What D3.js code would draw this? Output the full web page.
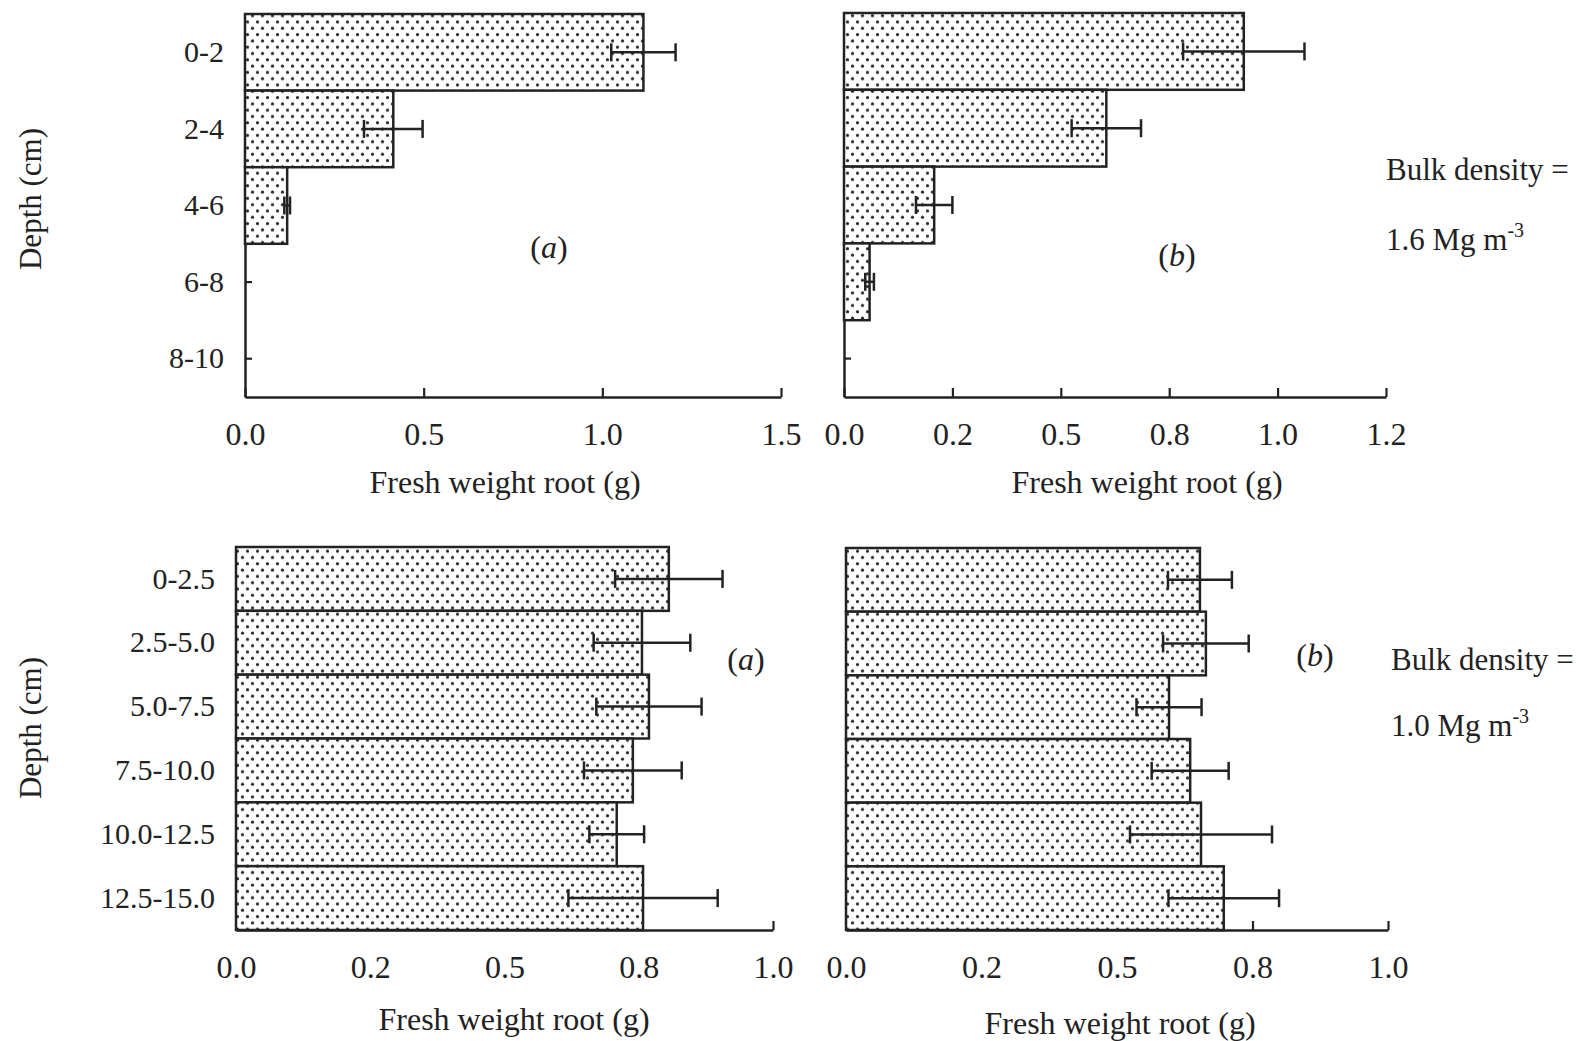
<!DOCTYPE html>
<html>
<head>
<meta charset="utf-8">
<script src="https://cdn.jsdelivr.net/npm/d3@7"></script>
<style>
	body { margin: 0; background: #fff; }
	svg { display: block; }
	text { font-family: "Liberation Serif", "DejaVu Serif", serif; fill: #222; }
</style>
</head>
<body>
<div id="chart"></div>
<script>
// Depth classes (cm)
const depthsTop = ["0-2", "2-4", "4-6", "6-8", "8-10"];
const depthsBottom = ["0-2.5", "2.5-5.0", "5.0-7.5", "7.5-10.0", "10.0-12.5", "12.5-15.0"];

// Fresh weight root (g), bulk density 1.6 Mg m-3
const weightTopA = [1.115, 0.415, 0.118, 0, 0];
const errorTopA = [0.09, 0.082, 0.008, 0, 0];
const weightTopB = [0.922, 0.605, 0.208, 0.059, 0];
const errorTopB = [0.14, 0.08, 0.042, 0.01, 0];

// Fresh weight root (g), bulk density 1.0 Mg m-3
const weightBottomA = [0.806, 0.756, 0.769, 0.739, 0.709, 0.758];
const errorBottomA = [0.1, 0.09, 0.098, 0.091, 0.051, 0.139];
const weightBottomB = [0.653, 0.664, 0.596, 0.635, 0.655, 0.697];
const errorBottomB = [0.059, 0.079, 0.06, 0.071, 0.131, 0.102];

// x ticks and the labels printed under them
const ticksTopA = [0, 0.5, 1.0, 1.5];
const tickLabelsTopA = ["0.0", "0.5", "1.0", "1.5"];
const ticksTopB = [0, 0.25, 0.5, 0.75, 1.0, 1.25];
const tickLabelsTopB = ["0.0", "0.2", "0.5", "0.8", "1.0", "1.2"];
const ticksBottom = [0, 0.25, 0.5, 0.75, 1.0];
const tickLabelsBottom = ["0.0", "0.2", "0.5", "0.8", "1.0"];

const ink = "#222";

const svg = d3.select("#chart").append("svg")
	.attr("width", 1580)
	.attr("height", 1041);

// dotted fill used by all bars
const pattern = svg.append("defs").append("pattern")
	.attr("id", "dots")
	.attr("patternUnits", "userSpaceOnUse")
	.attr("width", 10)
	.attr("height", 12.6);
pattern.append("rect").attr("width", 10).attr("height", 12.6).attr("fill", "#fff");
pattern.append("circle").attr("cx", 2.5).attr("cy", 3.1).attr("r", 1.6).attr("fill", "#2a2a2a");
pattern.append("circle").attr("cx", 7.5).attr("cy", 9.4).attr("r", 1.6).attr("fill", "#2a2a2a");

function drawPanel(p) {
	const x = d3.scaleLinear().domain(p.domain).range([p.left, p.right]);
	const y = d3.scaleBand().domain(p.depths).range([p.top, p.bottom]).padding(0);

	const g = svg.append("g");

	// x axis with inward ticks
	const xAxis = g.append("g")
		.attr("transform", `translate(0,${p.bottom})`)
		.call(d3.axisBottom(x)
			.tickValues(p.ticks)
			.tickFormat((d, i) => p.tickLabels[i])
			.tickSizeInner(-9)
			.tickSizeOuter(0)
			.tickPadding(25));
	xAxis.select(".domain").attr("stroke", ink).attr("stroke-width", 2.5);
	xAxis.selectAll(".tick line").attr("stroke", ink).attr("stroke-width", 2.2);
	xAxis.selectAll(".tick text")
		.style("font-family", "Liberation Serif")
		.style("font-size", "32px")
		.attr("fill", ink);

	// y axis with inward ticks
	const yAxis = g.append("g")
		.attr("transform", `translate(${p.left},0)`)
		.call(d3.axisLeft(y)
			.tickSizeInner(-7)
			.tickSizeOuter(0)
			.tickPadding(21)
			.tickFormat(d => p.showLabels ? d : ""));
	yAxis.select(".domain").attr("stroke", ink).attr("stroke-width", 2.5);
	yAxis.selectAll(".tick line").attr("stroke", ink).attr("stroke-width", 2.2);
	yAxis.selectAll(".tick text")
		.style("font-family", "Liberation Serif")
		.style("font-size", "30px")
		.attr("fill", ink);

	const rows = p.depths.map((d, i) => ({ depth: d, value: p.values[i], err: p.errors[i] }));

	// bars
	g.selectAll("rect.bar")
		.data(rows.filter(d => d.value > 0))
		.enter().append("rect")
		.attr("class", "bar")
		.attr("x", x(0))
		.attr("y", d => y(d.depth))
		.attr("width", d => x(d.value) - x(0))
		.attr("height", y.bandwidth())
		.attr("fill", "url(#dots)")
		.attr("stroke", ink)
		.attr("stroke-width", 2.5);

	// error bars
	const eb = g.selectAll("g.err")
		.data(rows.filter(d => d.err > 0))
		.enter().append("g")
		.attr("class", "err")
		.attr("stroke", ink)
		.attr("stroke-width", 2.5);
	const cy = d => y(d.depth) + y.bandwidth() / 2;
	eb.append("line")
		.attr("x1", d => x(d.value - d.err))
		.attr("x2", d => x(d.value + d.err))
		.attr("y1", cy).attr("y2", cy);
	eb.append("line")
		.attr("x1", d => x(d.value - d.err)).attr("x2", d => x(d.value - d.err))
		.attr("y1", d => cy(d) - 9).attr("y2", d => cy(d) + 9);
	eb.append("line")
		.attr("x1", d => x(d.value + d.err)).attr("x2", d => x(d.value + d.err))
		.attr("y1", d => cy(d) - 9).attr("y2", d => cy(d) + 9);

	// axis title
	g.append("text")
		.attr("x", p.titleX)
		.attr("y", p.titleY)
		.attr("text-anchor", "middle")
		.style("font-size", "32px")
		.text("Fresh weight root (g)");

	// panel letter
	const lab = g.append("text")
		.attr("x", p.letterX)
		.attr("y", p.letterY)
		.attr("text-anchor", "middle")
		.style("font-size", "32px");
	lab.append("tspan").text("(");
	lab.append("tspan").style("font-style", "italic").text(p.letter);
	lab.append("tspan").text(")");
}

drawPanel({
	depths: depthsTop, values: weightTopA, errors: errorTopA,
	domain: [0, 1.5], ticks: ticksTopA, tickLabels: tickLabelsTopA,
	left: 245, right: 781, top: 14, bottom: 397, showLabels: true,
	titleX: 505, titleY: 493, letter: "a", letterX: 549, letterY: 258
});
drawPanel({
	depths: depthsTop, values: weightTopB, errors: errorTopB,
	domain: [0, 1.25], ticks: ticksTopB, tickLabels: tickLabelsTopB,
	left: 844, right: 1386, top: 13, bottom: 397, showLabels: false,
	titleX: 1147, titleY: 493, letter: "b", letterX: 1177, letterY: 266
});
drawPanel({
	depths: depthsBottom, values: weightBottomA, errors: errorBottomA,
	domain: [0, 1.0], ticks: ticksBottom, tickLabels: tickLabelsBottom,
	left: 236, right: 773, top: 547, bottom: 930, showLabels: true,
	titleX: 514, titleY: 1030, letter: "a", letterX: 746, letterY: 670
});
drawPanel({
	depths: depthsBottom, values: weightBottomB, errors: errorBottomB,
	domain: [0, 1.0], ticks: ticksBottom, tickLabels: tickLabelsBottom,
	left: 846, right: 1388, top: 548, bottom: 930, showLabels: false,
	titleX: 1120, titleY: 1034, letter: "b", letterX: 1315, letterY: 666
});

// y axis titles
[199, 728].forEach(cy => {
	svg.append("text")
		.attr("transform", `translate(41,${cy}) rotate(-90)`)
		.attr("text-anchor", "middle")
		.style("font-size", "31px")
		.text("Depth (cm)");
});

// bulk density notes
function bulkNote(x, y1, y2, value) {
	svg.append("text").attr("x", x).attr("y", y1).style("font-size", "31px").text("Bulk density =");
	const t = svg.append("text").attr("x", x).attr("y", y2).style("font-size", "31px");
	t.append("tspan").text(value + " Mg m");
	t.append("tspan").attr("dx", 0).attr("dy", -13).style("font-size", "20px").text("-3");
}
bulkNote(1386, 180, 250, "1.6");
bulkNote(1391, 670, 736, "1.0");
</script>
</body>
</html>
